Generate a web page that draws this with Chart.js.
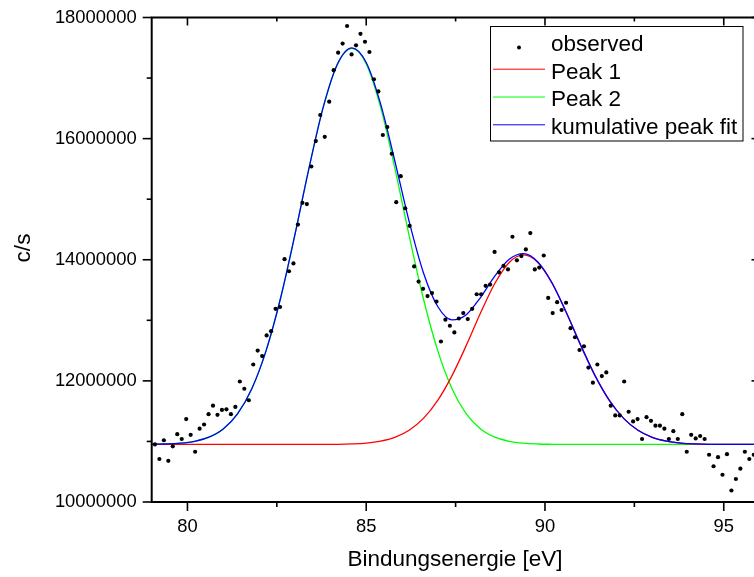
<!DOCTYPE html>
<html>
<head>
<meta charset="utf-8">
<title>XPS Peak Fit</title>
<script src="https://cdn.jsdelivr.net/npm/chart.js@4"></script>
<style>
  html, body { margin: 0; padding: 0; background: #fff; overflow: hidden; }
  #wrap { width: 770px; height: 577px; }
</style>
</head>
<body>
<div id="wrap"><canvas id="xpsChart" width="770" height="577"></canvas></div>
<script>
// Messwerte (Bindungsenergie in eV, Zählrate in 10^6 c/s)
const energy = [
  79.09, 79.215, 79.34, 79.465, 79.59, 79.715, 79.84, 79.965,
  80.09, 80.215, 80.34, 80.465, 80.59, 80.715, 80.84, 80.965,
  81.09, 81.215, 81.34, 81.465, 81.59, 81.715, 81.84, 81.965,
  82.09, 82.215, 82.34, 82.465, 82.59, 82.715, 82.84, 82.965,
  83.09, 83.215, 83.34, 83.465, 83.59, 83.715, 83.84, 83.965,
  84.09, 84.215, 84.34, 84.465, 84.59, 84.715, 84.84, 84.965,
  85.09, 85.215, 85.34, 85.465, 85.59, 85.715, 85.84, 85.965,
  86.09, 86.215, 86.34, 86.465, 86.59, 86.715, 86.84, 86.965,
  87.09, 87.215, 87.34, 87.465, 87.59, 87.715, 87.84, 87.965,
  88.09, 88.215, 88.34, 88.465, 88.59, 88.715, 88.84, 88.965,
  89.09, 89.215, 89.34, 89.465, 89.59, 89.715, 89.84, 89.965,
  90.09, 90.215, 90.34, 90.465, 90.59, 90.715, 90.84, 90.965,
  91.09, 91.215, 91.34, 91.465, 91.59, 91.715, 91.84, 91.965,
  92.09, 92.215, 92.34, 92.465, 92.59, 92.715, 92.84, 92.965,
  93.09, 93.215, 93.34, 93.465, 93.59, 93.715, 93.84, 93.965,
  94.09, 94.215, 94.34, 94.465, 94.59, 94.715, 94.84, 94.965,
  95.09, 95.215, 95.34, 95.465, 95.59, 95.715, 95.84
];
const observed = [
  10.95, 10.71, 11.02, 10.68, 10.92, 11.12, 11.04, 11.37,
  11.11, 10.83, 11.21, 11.28, 11.45, 11.59, 11.44, 11.52,
  11.53, 11.45, 11.57, 11.99, 11.87, 11.68, 12.27, 12.50,
  12.41, 12.75, 12.82, 13.19, 13.22, 14.01, 13.81, 13.94,
  14.58, 14.94, 14.92, 15.54, 15.96, 16.39, 16.03, 16.61,
  17.13, 17.42, 17.57, 17.86, 17.39, 17.54, 17.73, 17.60,
  17.43, 16.98, 16.78, 16.06, 16.19, 15.75, 14.95, 15.38,
  14.85, 14.56, 13.89, 13.64, 13.52, 13.40, 13.45, 13.31,
  12.65, 13.01, 12.91, 12.80, 13.03, 13.12, 13.02, 13.19,
  13.43, 13.43, 13.57, 13.59, 14.13, 13.79, 13.90, 13.84,
  14.38, 13.99, 14.06, 14.17, 14.44, 13.84, 13.87, 14.07,
  13.37, 13.12, 13.30, 13.17, 13.29, 12.87, 12.72, 12.51,
  12.57, 12.22, 11.97, 12.27, 12.08, 12.14, 11.59, 11.43,
  11.43, 11.99, 11.49, 11.33, 11.37, 11.04, 11.40, 11.34,
  11.26, 11.26, 11.21, 11.04, 11.17, 11.04, 11.45, 10.83,
  11.11, 11.05, 11.09, 11.04, 10.78, 10.59, 10.74, 10.45,
  10.79, 10.19, 10.38, 10.55, 10.83, 10.71, 10.78
];

const fitEnergy = [
  79.0, 79.4, 79.8, 80.2, 80.6, 81.0, 81.4, 81.8, 82.2, 82.6, 83.0,
  83.4, 83.8, 84.2, 84.6, 85.0, 85.4, 85.8, 86.2, 86.6, 87.0, 87.4,
  87.8, 88.2, 88.6, 89.0, 89.4, 89.8, 90.2, 90.6, 91.0, 91.4, 91.8,
  92.2, 92.6, 93.0, 93.4, 93.8, 94.2, 94.6, 95.0, 95.4, 95.8, 96.2
];
const peak1 = [
  10.950, 10.950, 10.950, 10.950, 10.950, 10.950, 10.950, 10.950, 10.950, 10.950, 10.950,
  10.950, 10.951, 10.953, 10.959, 10.973, 11.005, 11.068, 11.184, 11.380, 11.678, 12.087,
  12.587, 13.124, 13.612, 13.956, 14.080, 13.956, 13.612, 13.124, 12.587, 12.087, 11.678,
  11.380, 11.184, 11.068, 11.005, 10.973, 10.959, 10.953, 10.951, 10.950, 10.950, 10.950
];
const peak2 = [
  10.953, 10.958, 10.971, 11.002, 11.070, 11.206, 11.456, 11.871, 12.500, 13.356, 14.399,
  15.513, 16.523, 17.234, 17.490, 17.234, 16.523, 15.513, 14.399, 13.356, 12.500, 11.871,
  11.456, 11.206, 11.070, 11.002, 10.971, 10.958, 10.953, 10.950, 10.950, 10.950, 10.950,
  10.950, 10.950, 10.950, 10.950, 10.950, 10.950, 10.950, 10.950, 10.950, 10.950, 10.950
];
const cumulativeFit = [
  10.953, 10.958, 10.971, 11.002, 11.070, 11.206, 11.456, 11.871, 12.500, 13.356, 14.399,
  15.513, 16.524, 17.237, 17.499, 17.257, 16.578, 15.631, 14.633, 13.786, 13.228, 13.008,
  13.093, 13.380, 13.732, 14.008, 14.101, 13.964, 13.615, 13.124, 12.587, 12.087, 11.678,
  11.380, 11.184, 11.068, 11.005, 10.973, 10.959, 10.953, 10.951, 10.950, 10.950, 10.950
];

// Achsen
const xMajorTicks = [80, 85, 90, 95];
const xMinorTicks = [82.5, 87.5, 92.5];
const yMajorTicks = [10000000, 12000000, 14000000, 16000000, 18000000];
const yMinorTicks = [11000000, 13000000, 15000000, 17000000];

const legendLabels = ['observed', 'Peak 1', 'Peak 2', 'kumulative peak fit'];
const legendColors = ['#000000', '#ff0000', '#00ff00', '#0000ff'];

const FONT = "'Liberation Sans', Arial, sans-serif";
Chart.defaults.font.family = FONT;
Chart.defaults.color = '#000';

const toPoints = (xs, ys) => xs.map((x, i) => ({ x: x, y: ys[i] * 1e6 }));

function curve(label, xs, ys, color, order) {
  return {
    label: label,
    data: toPoints(xs, ys),
    borderColor: color,
    borderWidth: 1.3,
    pointRadius: 0,
    fill: false,
    cubicInterpolationMode: 'monotone',
    order: order
  };
}

function line(ctx, x1, y1, x2, y2) {
  ctx.beginPath();
  ctx.moveTo(x1, y1);
  ctx.lineTo(x2, y2);
  ctx.stroke();
}

// keine Extra-Ränder für überstehende Tick-Beschriftungen
function noOverflow(s) {
  s.paddingTop = 0;
  s.paddingBottom = 0;
  s.paddingLeft = 0;
  s.paddingRight = 0;
}

// Rahmen, Ticks und Achsentitel im Origin-Stil
const framePlugin = {
  id: 'frame',
  afterDatasetsDraw(chart) {
    const { ctx, chartArea: a, scales: { x, y } } = chart;
    ctx.save();
    ctx.strokeStyle = '#000';
    ctx.lineWidth = 2;
    ctx.strokeRect(a.left, a.top, a.right - a.left, a.bottom - a.top);

    ctx.lineWidth = 1.6;
    xMajorTicks.forEach(v => {
      const px = x.getPixelForValue(v);
      line(ctx, px, a.bottom, px, a.bottom + 9);
      line(ctx, px, a.top, px, a.top + 8);
    });
    xMinorTicks.forEach(v => {
      const px = x.getPixelForValue(v);
      line(ctx, px, a.bottom, px, a.bottom + 5);
      line(ctx, px, a.top, px, a.top + 4);
    });
    yMajorTicks.forEach(v => {
      const py = y.getPixelForValue(v);
      line(ctx, a.left - 9, py, a.left, py);
      line(ctx, a.right - 8, py, a.right, py);
    });
    yMinorTicks.forEach(v => {
      const py = y.getPixelForValue(v);
      line(ctx, a.left - 5, py, a.left, py);
      line(ctx, a.right - 4, py, a.right, py);
    });

    ctx.fillStyle = '#000';
    ctx.font = '22.5px ' + FONT;
    ctx.textAlign = 'center';
    ctx.textBaseline = 'middle';
    ctx.fillText('Bindungsenergie [eV]', 455, 560);
    ctx.translate(24, 248);
    ctx.rotate(-Math.PI / 2);
    ctx.fillText('c/s', 0, 0);
    ctx.restore();
  }
};

// Legende als Kasten oben rechts
const legendPlugin = {
  id: 'boxLegend',
  afterDraw(chart) {
    const ctx = chart.ctx;
    ctx.save();
    ctx.fillStyle = '#fff';
    ctx.fillRect(490.5, 26.5, 252.5, 114.5);
    ctx.strokeStyle = '#000';
    ctx.lineWidth = 1;
    ctx.strokeRect(490.5, 26.5, 252.5, 114.5);

    ctx.font = '22.5px ' + FONT;
    ctx.textAlign = 'left';
    ctx.textBaseline = 'alphabetic';
    legendLabels.forEach((text, i) => {
      const base = 50.7 + i * 27.8;
      if (i === 0) {
        ctx.fillStyle = legendColors[i];
        ctx.beginPath();
        ctx.arc(519, 47.5, 2, 0, Math.PI * 2);
        ctx.fill();
      } else {
        ctx.strokeStyle = legendColors[i];
        ctx.lineWidth = 1;
        line(ctx, 493, base - 9.3, 545, base - 9.3);
      }
      ctx.fillStyle = '#000';
      ctx.fillText(text, 551, base);
    });
    ctx.restore();
  }
};

const ctx = document.getElementById('xpsChart').getContext('2d');
const xpsChart = new Chart(ctx, {
  type: 'line',
  data: {
    datasets: [
      {
        label: 'observed',
        data: toPoints(energy, observed),
        showLine: false,
        pointRadius: 2.1,
        pointBackgroundColor: '#000',
        pointBorderWidth: 0,
        order: 0
      },
      curve('kumulative peak fit', fitEnergy, cumulativeFit, '#0000ff', 1),
      curve('Peak 1', fitEnergy, peak1, '#ff0000', 2),
      curve('Peak 2', fitEnergy, peak2, '#00ff00', 3)
    ]
  },
  options: {
    responsive: false,
    animation: false,
    layout: { padding: { left: 0, top: 17.5, right: 10.5, bottom: 0 } },
    plugins: {
      legend: { display: false },
      tooltip: { enabled: false }
    },
    scales: {
      x: {
        type: 'linear',
        position: 'bottom',
        min: 79,
        max: 96,
        afterBuildTicks: s => { s.ticks = xMajorTicks.map(v => ({ value: v })); },
        afterFit: s => { s.height = 75; noOverflow(s); },
        ticks: {
          callback: v => String(v),
          font: { size: 18.4 },
          color: '#000',
          padding: 14,
          maxRotation: 0
        },
        grid: { display: false, drawTicks: false },
        border: { display: false }
      },
      y: {
        type: 'linear',
        position: 'left',
        min: 10000000,
        max: 18000000,
        afterBuildTicks: s => { s.ticks = yMajorTicks.map(v => ({ value: v })); },
        afterFit: s => { s.width = 151.7; noOverflow(s); },
        ticks: {
          callback: v => String(v),
          font: { size: 18.4 },
          color: '#000',
          padding: 15
        },
        grid: { display: false, drawTicks: false },
        border: { display: false }
      }
    }
  },
  plugins: [framePlugin, legendPlugin]
});
</script>
</body>
</html>
